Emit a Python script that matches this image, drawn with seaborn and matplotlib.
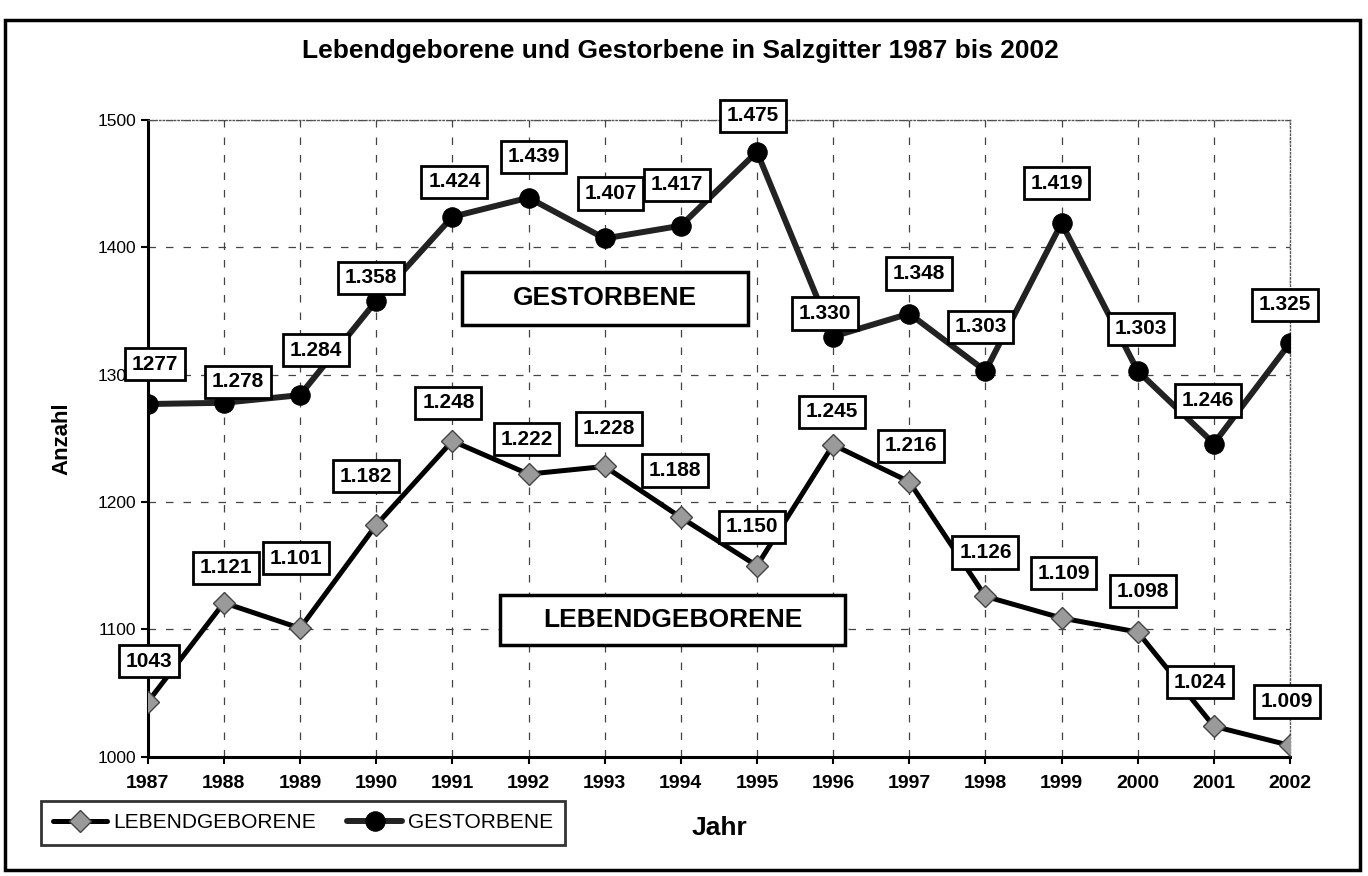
import matplotlib
matplotlib.use("Agg")
import matplotlib.pyplot as plt
import matplotlib.patches as patches
import seaborn as sns
import pandas as pd

# data
jahre = list(range(1987, 2003))
lebendgeborene = [1043, 1121, 1101, 1182, 1248, 1222, 1228, 1188, 1150, 1245, 1216, 1126, 1109, 1098, 1024, 1009]
gestorbene = [1277, 1278, 1284, 1358, 1424, 1439, 1407, 1417, 1475, 1330, 1348, 1303, 1419, 1303, 1246, 1325]
lebend_labels = ["1043", "1.121", "1.101", "1.182", "1.248", "1.222", "1.228", "1.188",
                 "1.150", "1.245", "1.216", "1.126", "1.109", "1.098", "1.024", "1.009"]
gest_labels = ["1277", "1.278", "1.284", "1.358", "1.424", "1.439", "1.407", "1.417",
               "1.475", "1.330", "1.348", "1.303", "1.419", "1.303", "1.246", "1.325"]

# label box offsets in pixels (layout only)
lebend_off = [(1, 41), (2, 35), (-4, 70), (-10, 49), (-4, 38), (-2, 35), (4, 38), (-6, 47),
              (-5, 39), (-1, 33), (2, 36), (0, 44), (2, 45), (5, 41), (-14, 44), (-3, 44)]
gest_off = [(7, 40), (14, 21), (16, 45), (-5, 23), (2, 35), (5, 41), (6, 45), (-4, 41),
            (-4, 36), (-8, 23), (10, 40), (-5, 44), (-5, 40), (3, 42), (-6, 43), (-5, 38)]

df = pd.DataFrame({"Jahr": jahre, "LEBENDGEBORENE": lebendgeborene, "GESTORBENE": gestorbene})

sns.set_style("white")
plt.rcParams["font.family"] = ["Liberation Sans", "DejaVu Sans"]
plt.rcParams["text.color"] = "black"
plt.rcParams["axes.labelcolor"] = "black"
plt.rcParams["xtick.color"] = "black"
plt.rcParams["ytick.color"] = "black"

fig = plt.figure(figsize=(13.68, 8.76), dpi=100)
ax = fig.add_axes([0.108, 0.136, 0.835, 0.727])

sns.lineplot(data=df, x="Jahr", y="LEBENDGEBORENE", ax=ax, color="black", lw=3.6,
             marker="D", markersize=11, markerfacecolor="#9a9a9a", markeredgecolor="#444444",
             markeredgewidth=1, label="LEBENDGEBORENE", zorder=3)
sns.lineplot(data=df, x="Jahr", y="GESTORBENE", ax=ax, color="#222222", lw=4.3,
             marker="o", markersize=14, markerfacecolor="black", markeredgecolor="black",
             label="GESTORBENE", zorder=3)

box = dict(boxstyle="square,pad=0.32", fc="white", ec="black", lw=2)
for x, y, t, o in zip(jahre, lebendgeborene, lebend_labels, lebend_off):
    ax.annotate(t, xy=(x, y), xytext=o, textcoords="offset pixels", ha="center", va="center",
                fontsize=15, fontweight="bold", bbox=box, zorder=5)
for x, y, t, o in zip(jahre, gestorbene, gest_labels, gest_off):
    ax.annotate(t, xy=(x, y), xytext=o, textcoords="offset pixels", ha="center", va="center",
                fontsize=15, fontweight="bold", bbox=box, zorder=5)

# series name boxes inside the plot
ax.add_patch(patches.Rectangle((1991.13, 1339), 3.75, 41.5, fc="white", ec="black", lw=2.5, zorder=4))
ax.text(1993.0, 1360, "GESTORBENE", ha="center", va="center", fontsize=19, fontweight="bold", zorder=5)
ax.add_patch(patches.Rectangle((1991.63, 1088), 4.53, 39, fc="white", ec="black", lw=2.5, zorder=4))
ax.text(1993.9, 1107.5, "LEBENDGEBORENE", ha="center", va="center", fontsize=19, fontweight="bold", zorder=5)

ax.set_xlim(1987, 2002)
ax.set_ylim(1000, 1500)
ax.set_xticks(jahre)
ax.set_xticklabels([str(j) for j in jahre], fontsize=14, fontweight="bold")
ax.set_yticks(range(1000, 1501, 100))
ax.tick_params(axis="y", labelsize=12.5, length=5, width=1.5, direction="out", left=True)
ax.tick_params(axis="x", length=5, width=1.5, direction="out", bottom=True, pad=8)
ax.grid(True, color="#444444", lw=0.9, linestyle=(0, (6, 8)))
ax.set_axisbelow(True)

for s in ["left", "bottom"]:
    ax.spines[s].set_color("black")
    ax.spines[s].set_linewidth(2.2)
for s in ["top", "right"]:
    ax.spines[s].set_color("#555555")
    ax.spines[s].set_linewidth(1)
    ax.spines[s].set_linestyle(":")

ax.set_xlabel("")
ax.set_ylabel("Anzahl", fontsize=16, fontweight="bold", labelpad=18)
fig.text(0.526, 0.055, "Jahr", fontsize=19, fontweight="bold", ha="center", va="center")
fig.text(0.497, 0.942, "Lebendgeborene und Gestorbene in Salzgitter 1987 bis 2002",
         fontsize=19, fontweight="bold", ha="center", va="center")

leg = ax.legend(loc="lower left", bbox_to_anchor=(0.022, 0.024), bbox_transform=fig.transFigure,
                ncol=2, frameon=True, fancybox=False, fontsize=15, handlelength=2.6,
                columnspacing=1.5, borderpad=0.6, handletextpad=0.3)
leg.get_frame().set_edgecolor("black")
leg.get_frame().set_linewidth(2)

# outer frame of the chart
fig.patches.append(patches.Rectangle((0.004, 0.007), 0.99, 0.97, transform=fig.transFigure,
                                     fill=False, ec="black", lw=2.5))

fig.savefig("out.png", dpi=100)
